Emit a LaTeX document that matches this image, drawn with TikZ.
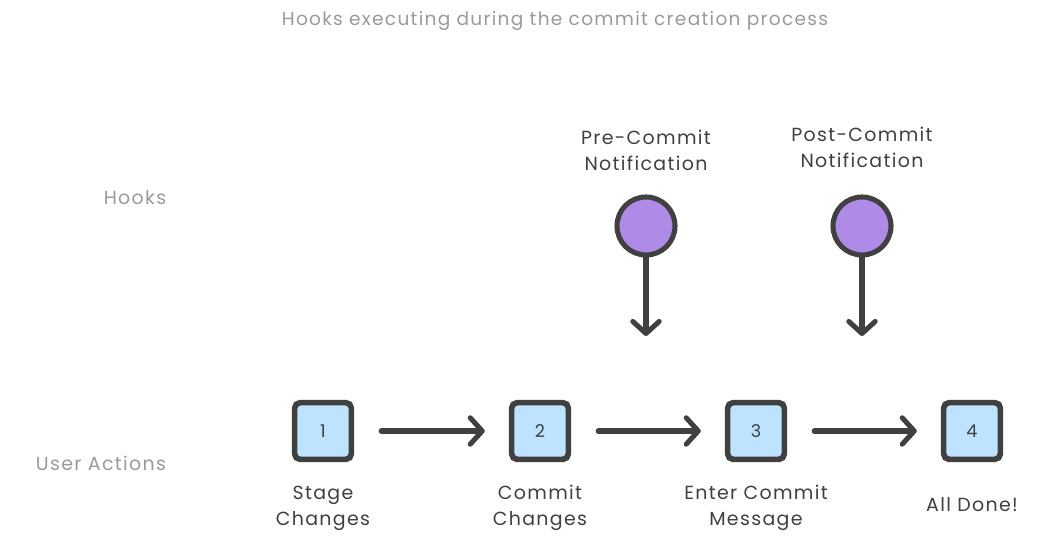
\documentclass[tikz,border=0pt]{standalone}
\usepackage{fontspec}
\setmainfont{Poppins}[LetterSpace=7]
\usetikzlibrary{arrows.meta, positioning, calc}

\definecolor{inkgray}{HTML}{404040}
\definecolor{labelgray}{HTML}{9A9A9A}
\definecolor{stepblue}{HTML}{BDE3FF}
\definecolor{hookpurple}{HTML}{AF8BE8}

\begin{document}
\begin{tikzpicture}[
    x=0.025cm, y=-0.025cm,
    stepbox/.style={rectangle, rounded corners=4pt, minimum width=1.42cm, minimum height=1.42cm, line width=4pt, draw=inkgray, fill=stepblue, font=\fontsize{12.5}{14}\selectfont, text=inkgray},
    hook/.style={circle, minimum size=1.45cm, line width=3.6pt, draw=inkgray, fill=hookpurple},
    caption/.style={align=center, text=inkgray, font=\fontsize{13.5}{18.5}\selectfont},
    side/.style={text=labelgray, font=\fontsize{13.5}{16}\selectfont},
    arrow/.style={line width=3.6pt, draw=inkgray, line cap=round, -{Straight Barb[length=0.3cm, width=0.66cm, line cap=round, line join=round]}}
]
\useasboundingbox (0,0) rectangle (1040,543);

\node (title) [text=labelgray, font=\fontsize{13.2}{16}\selectfont] at (555,21) {Hooks executing during the commit creation process};
\node (hooks) [side] at (135,198) {Hooks};
\node (user) [side] at (101,463) {User Actions};

% user actions
\node (s1) [stepbox] at (323,431) {1};
\node (s2) [stepbox] at (540,431) {2};
\node (s3) [stepbox] at (756,431) {3};
\node (s4) [stepbox] at (972,431) {4};

\node (c1) [caption] at (323,508) {Stage\\Changes};
\node (c2) [caption] at (540,508) {Commit\\Changes};
\node (c3) [caption] at (756,508) {Enter Commit\\Message};
\node (c4) [caption] at (972,505) {All Done!};

% hooks
\node (pre) [hook] at (646,226) {};
\node (post) [hook] at (862,226) {};
\node (prel) [caption] at (646,150) {Pre-Commit\\Notification};
\node (postl) [caption] at (862,147) {Post-Commit\\Notification};

\coordinate (pret) at (646,336);
\coordinate (postt) at (862,336);

\draw [arrow] ($(s1.east)+(27,0)$) -- ($(s2.west)+(-24,0)$);
\draw [arrow] ($(s2.east)+(27,0)$) -- ($(s3.west)+(-24,0)$);
\draw [arrow] ($(s3.east)+(27,0)$) -- ($(s4.west)+(-24,0)$);
\draw [arrow] (pre) -- (pret);
\draw [arrow] (post) -- (postt);

\end{tikzpicture}
\end{document}
